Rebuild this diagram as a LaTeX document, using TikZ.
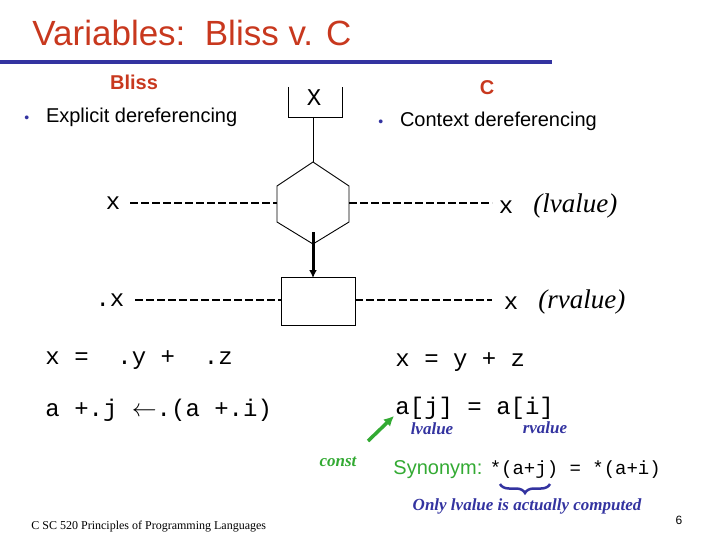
\documentclass[tikz,border=0pt]{standalone}
\usepackage{fontspec}
\setmainfont{Liberation Serif}
\setsansfont{Liberation Sans}
\setmonofont{Liberation Mono}
\usetikzlibrary{decorations.pathreplacing,arrows.meta}
\definecolor{tred}{HTML}{C8381E}
\definecolor{tblue}{HTML}{3333A0}
\definecolor{tgreen}{HTML}{33AA33}
\tikzset{
 mono/.style={font=\ttfamily\fontsize{24}{26}\selectfont, inner sep=0},
 ital/.style={font=\itshape\fontsize{27}{29}\selectfont, inner sep=0},
 sans/.style={font=\sffamily\fontsize{20}{22}\selectfont, inner sep=0},
 note/.style={font=\bfseries\itshape\fontsize{17}{19}\selectfont, text=tblue, inner sep=0},
 dline/.style={dash pattern=on 8pt off 3pt, line width=2pt},
}
\begin{document}
\begin{tikzpicture}[x=1pt,y=-1pt, line width=0.9pt]
\useasboundingbox (0,0) rectangle (720,540);
\node[font=\sffamily\fontsize{35}{37}\selectfont, text=tred, anchor=west, inner sep=0] (title) at (32,33) {Variables:\ \ Bliss v. C};
\draw[tblue, line width=4pt] (0,62) -- (552,62);
\node[sans, font=\sffamily\bfseries\fontsize{20}{22}\selectfont, text=tred] (bliss) at (134,82) {Bliss};
\node[sans, font=\sffamily\bfseries\fontsize{20}{22}\selectfont, text=tred] (c) at (487,88) {C};
\node[sans, anchor=west] (b1) at (24,117) {{\color{tblue}\fontsize{14}{14}\selectfont\textbullet}\ \ \ Explicit dereferencing};
\node[sans, anchor=west] (b2) at (378,121) {{\color{tblue}\fontsize{14}{14}\selectfont\textbullet}\ \ \ Context dereferencing};
% top box
\draw (288,87) -- (288,117) -- (342,117) -- (342,87);
\node[mono] (X) at (314,98) {X};
\coordinate (boxb) at (313,117);
\coordinate (hex) at (313,162);
\draw (boxb) -- (hex);
\draw (313,162) -- (349,186) -- (349,222) -- (313,244) -- (277,222) -- (277,186) -- cycle;
\draw[line width=3pt, -{Latex[length=8pt,width=8pt]}] (313,232) -- (313,278);
\draw (281,277) rectangle (355,325);
% dashed lines
\node[mono] (x1) at (113,203) {x};
\draw[dline] (130,203) -- (277,203);
\draw[dline] (349,203) -- (492,203);
\node[mono] (x2) at (506,207) {x};
\node[ital, anchor=west] (lv) at (533,206) {(lvalue)};
\node[mono] (x3) at (110,300) {.x};
\draw[dline] (135,300) -- (281,300);
\draw[dline] (355,300) -- (492,300);
\node[mono] (x4) at (511,303) {x};
\node[ital, anchor=west] (rv) at (538,302) {(rvalue)};
% code
\node[mono, anchor=west] (e1) at (45,360) {x =\ \ .y +\ \ .z};
\node[mono, anchor=west] (e2) at (395,362) {x = y + z};
\node[mono, anchor=west] (e3) at (45,410) {a +.j $\leftarrow$.(a +.i)};
\node[mono, anchor=west] (e4) at (395,408) {a[j] = a[i]};
\node[note] (lval) at (432,429) {lvalue};
\node[note] (rval) at (545,428) {rvalue};
\coordinate (gs) at (368,441);
\draw[tgreen, line width=3.5pt, -{Latex[length=10pt,width=10pt]}] (gs) -- (394,416);
\node[note, text=tgreen] (const) at (338,462) {const};
\node[sans, anchor=west, text=tgreen] (syn) at (393,470) {Synonym: {\color{black}\ttfamily\fontsize{19}{20}\selectfont *(a+j) = *(a+i)}};
\draw[tblue, line width=2.5pt, decorate, decoration={brace, amplitude=9pt, mirror}] (500,484) -- (550,484);
\node[note] (only) at (527,506) {Only lvalue is actually computed};
\node[font=\fontsize{12}{13}\selectfont, anchor=west, inner sep=0] (foot) at (31,527) {C SC 520 Principles of Programming Languages};
\node[font=\sffamily\fontsize{12}{13}\selectfont, inner sep=0] (pg) at (679,520) {6};
\end{tikzpicture}
\end{document}
